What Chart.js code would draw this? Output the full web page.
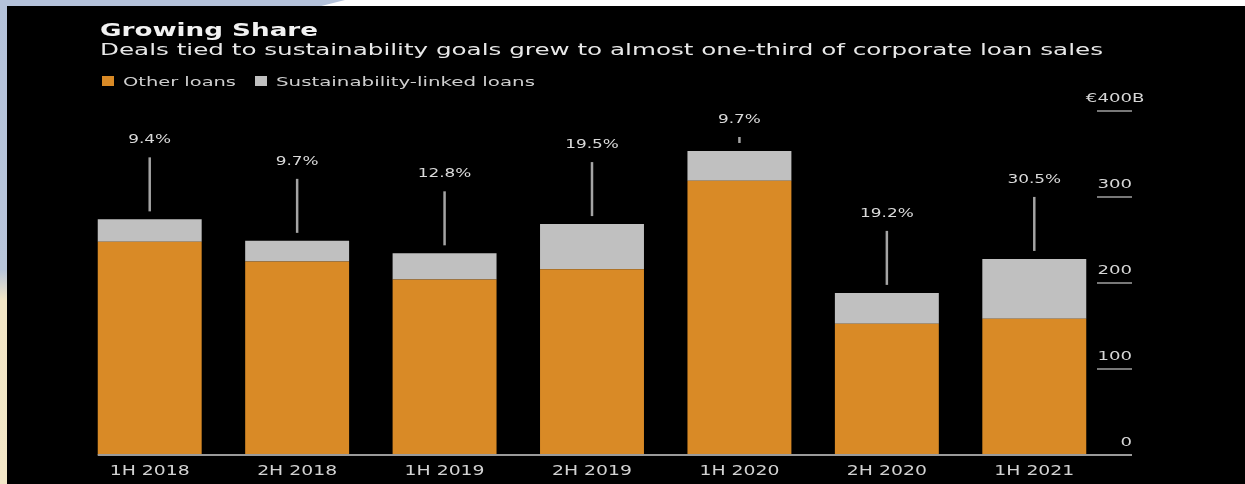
<!DOCTYPE html>
<html>
<head>
<meta charset="utf-8">
<script src="https://cdn.jsdelivr.net/npm/chart.js@4"></script>
<style>
  html, body { margin: 0; padding: 0; }
  body { width: 1245px; height: 484px; position: relative; overflow: hidden; background: #ffffff; }
  .edge-top { position: absolute; left: 0; top: 0; width: 345px; height: 7px; background: #b4c2da;
              clip-path: polygon(0 0, 100% 0, 92% 100%, 0 100%); }
  .edge-left { position: absolute; left: 0; top: 0; width: 8px; height: 484px;
               background: linear-gradient(to bottom, #b4c2da 0, #b8c5da 270px, #f2e6c6 300px, #f3e7c8 100%); }
  #myChart { position: absolute; left: 0; top: 0; }
</style>
</head>
<body>
<div class="edge-top"></div>
<div class="edge-left"></div>
<canvas id="myChart" width="1245" height="484"></canvas>
<script>
// values, in billions of euros
var categories = ["1H 2018", "2H 2018", "1H 2019", "2H 2019", "1H 2020", "2H 2020", "1H 2021"];
var otherLoans = [248, 225, 204, 216, 319, 152.5, 158.5];
var sustainabilityLoans = [26, 24, 30.5, 52.5, 34.5, 36, 69.5];
var shareLabels = ["9.4%", "9.7%", "12.8%", "19.5%", "9.7%", "19.2%", "30.5%"];
var yTicks = [0, 100, 200, 300, 400];

var ORANGE = '#d98a26';
var GREY = '#c0c0c0';
var FONT = '"DejaVu Sans", Verdana, sans-serif';

// the source picture is stretched sideways, so text gets a horizontal scale
function stretchText(ctx, text, x, y, o) {
    ctx.save();
    ctx.font = o.font;
    var w = ctx.measureText(text).width;
    var sx = o.width ? o.width / w : (o.sx || 1);
    var x0 = x;
    if (o.align === 'center') x0 = x - w * sx / 2;
    else if (o.align === 'right') x0 = x - w * sx;
    ctx.translate(x0, y);
    ctx.scale(sx, 1);
    ctx.textAlign = 'left';
    ctx.textBaseline = 'alphabetic';
    ctx.fillStyle = o.color;
    ctx.fillText(text, 0, 0);
    ctx.restore();
    return w * sx;
}

var decor = {
    id: 'decor',
    beforeDraw: function(chart) {
        var ctx = chart.ctx;
        ctx.save();
        ctx.fillStyle = '#000';
        ctx.fillRect(7, 6, chart.width - 7, chart.height - 6);
        ctx.restore();
    },
    afterDraw: function(chart) {
        var ctx = chart.ctx;
        var x = chart.scales.x, y = chart.scales.y;
        var area = chart.chartArea;

        // header
        stretchText(ctx, 'Growing Share', 100, 36, {font: 'bold 17px ' + FONT, color: '#f2f2f2', width: 218});
        stretchText(ctx, 'Deals tied to sustainability goals grew to almost one-third of corporate loan sales', 100, 55,
            {font: '16px ' + FONT, color: '#e8e8e8', width: 1003});

        // legend
        ctx.fillStyle = ORANGE;
        ctx.fillRect(102, 76, 12, 10);
        stretchText(ctx, 'Other loans', 123, 86, {font: '13px ' + FONT, color: '#cfcfcf', width: 113});
        ctx.fillStyle = GREY;
        ctx.fillRect(255, 76, 12, 10);
        stretchText(ctx, 'Sustainability-linked loans', 276, 86, {font: '13px ' + FONT, color: '#cfcfcf', width: 259});

        // baseline
        var meta = chart.getDatasetMeta(1);
        var first = chart.getDatasetMeta(0).data[0];
        var y0 = y.getPixelForValue(0);
        ctx.save();
        ctx.strokeStyle = '#9a9a9a';
        ctx.lineWidth = 2;
        ctx.beginPath();
        ctx.moveTo(first.x - first.width / 2, y0);
        ctx.lineTo(1132, y0);
        ctx.stroke();

        // value axis on the right, labels sit above short rules
        ctx.strokeStyle = '#a0a0a0';
        ctx.lineWidth = 1.5;
        var tickFont = '12.5px ' + FONT, tickSx = 1.45;
        yTicks.forEach(function(v) {
            var py = y.getPixelForValue(v);
            if (v !== 0) {
                ctx.beginPath();
                ctx.moveTo(1097, py);
                ctx.lineTo(1132, py);
                ctx.stroke();
            }
            if (v === yTicks[yTicks.length - 1]) {
                ctx.font = tickFont;
                var wNum = ctx.measureText('\u20ac' + v).width * tickSx;
                stretchText(ctx, '\u20ac' + v + 'B', 1132 - wNum, py - 9, {font: tickFont, color: '#d6d6d6', sx: tickSx});
            } else {
                stretchText(ctx, String(v), 1132, py - 9, {font: tickFont, color: '#d6d6d6', sx: tickSx, align: 'right'});
            }
        });

        // category labels
        categories.forEach(function(c, i) {
            stretchText(ctx, c, x.getPixelForValue(i), 475, {font: '13.5px ' + FONT, color: '#d2d2d2', width: 80, align: 'center'});
        });

        // share labels with leader lines
        ctx.strokeStyle = '#a4a4a4';
        ctx.lineWidth = 2.5;
        meta.data.forEach(function(bar, i) {
            var top = bar.y;
            var base = Math.max(top - 76, area.top + 12);
            stretchText(ctx, shareLabels[i], bar.x, base, {font: '13px ' + FONT, color: '#dadada', sx: 1.3, align: 'center'});
            ctx.beginPath();
            ctx.moveTo(bar.x, base + 14);
            ctx.lineTo(bar.x, top - 8);
            ctx.stroke();
        });
        ctx.restore();
    }
};

var ctx = document.getElementById("myChart");
var myChart = new Chart(ctx, {
    type: 'bar',
    data: {
        labels: categories,
        datasets: [{
            label: 'Other loans',
            data: otherLoans,
            backgroundColor: ORANGE,
            borderWidth: 0
        }, {
            label: 'Sustainability-linked loans',
            data: sustainabilityLoans,
            backgroundColor: GREY,
            borderWidth: 0
        }]
    },
    options: {
        responsive: false,
        animation: false,
        devicePixelRatio: 1,
        layout: {
            padding: { left: 76, right: 137, top: 111, bottom: 29 }
        },
        datasets: {
            bar: { categoryPercentage: 1, barPercentage: 0.705 }
        },
        scales: {
            x: { stacked: true, display: false },
            y: { stacked: true, display: false, min: 0, max: 400 }
        },
        plugins: {
            legend: { display: false },
            tooltip: { enabled: false }
        }
    },
    plugins: [decor]
});
</script>
</body>
</html>
